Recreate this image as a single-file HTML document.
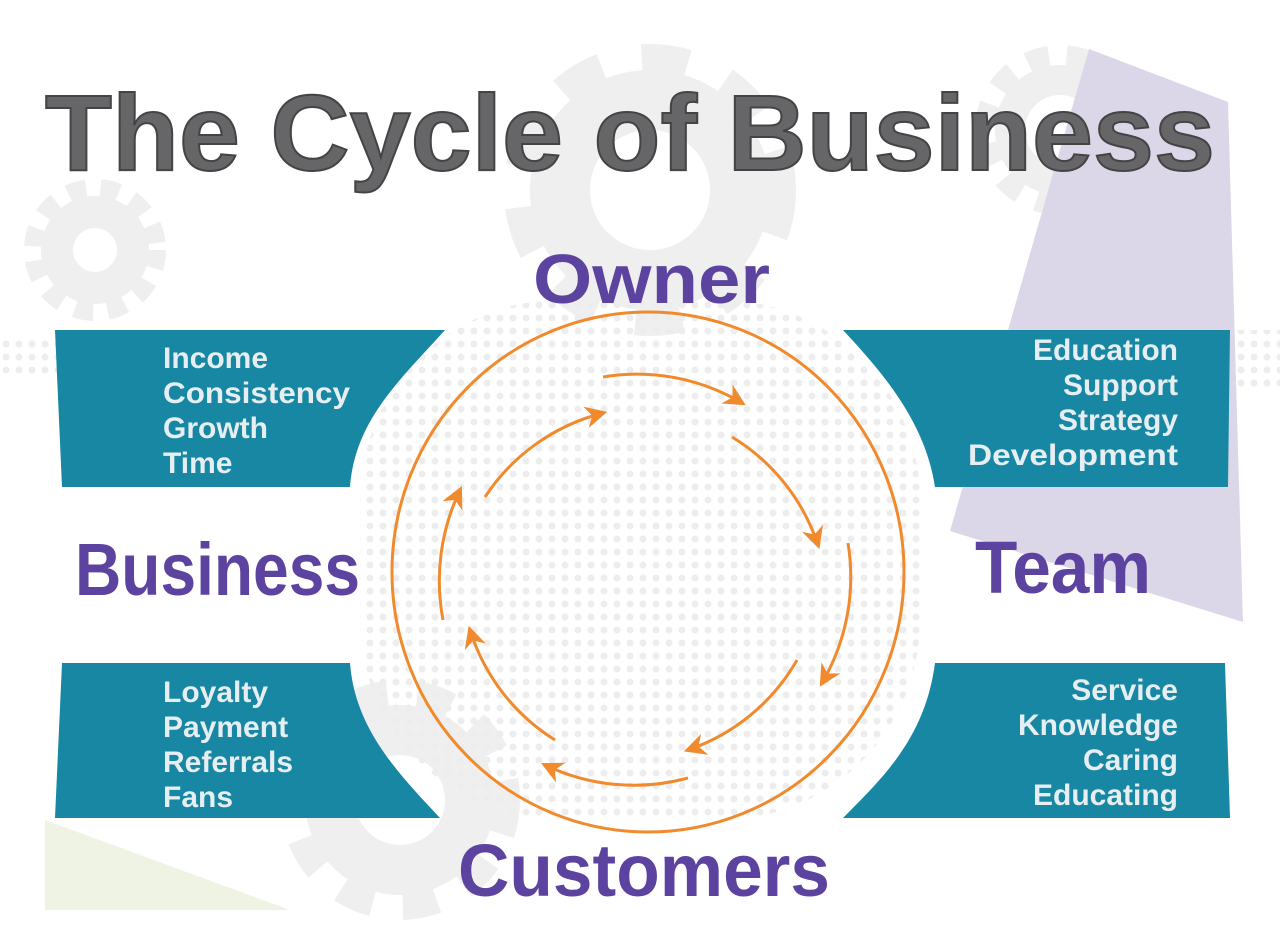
<!DOCTYPE html>
<html><head><meta charset="utf-8"><style>
html,body{margin:0;padding:0;background:#fff;}
svg{display:block;}
</style></head><body>
<svg width="1280" height="943" viewBox="0 0 1280 943" xmlns="http://www.w3.org/2000/svg">
<defs>
<marker id="a" viewBox="0 0 10 10" refX="8" refY="5" markerWidth="22" markerHeight="22" markerUnits="userSpaceOnUse" orient="auto">
<path d="M0,0 L10,5 L0,10 L3,5 Z" fill="#f08a2c"/>
</marker>
<pattern id="dots" width="13" height="13" patternUnits="userSpaceOnUse">
<circle cx="6" cy="6" r="3.5" fill="#ededed"/>
</pattern>
</defs>
<rect width="1280" height="943" fill="#fff"/>
<!-- gears -->
<g fill="none" stroke="#efefef">
<circle cx="650" cy="190" r="90" stroke-width="60"/>
<circle cx="650" cy="190" r="128" stroke-width="36" stroke-dasharray="45 40"/>
<circle cx="95" cy="250" r="38" stroke-width="32"/>
<circle cx="95" cy="250" r="60" stroke-width="22" stroke-dasharray="18 14"/>
<circle cx="400" cy="800" r="70" stroke-width="50"/>
<circle cx="400" cy="800" r="105" stroke-width="30" stroke-dasharray="34 30"/>
<circle cx="1060" cy="130" r="50" stroke-width="30"/>
<circle cx="1060" cy="130" r="75" stroke-width="20" stroke-dasharray="22 18"/>
</g>
<!-- dotted world map hint -->
<g fill="url(#dots)">
<rect x="0" y="335" width="60" height="45"/>
<rect x="360" y="300" width="560" height="520" rx="200"/>
<rect x="1230" y="330" width="50" height="60"/>
</g>
<!-- purple polygon -->
<polygon points="1089,49 1228,102 1243,622 950,531" fill="#dcd7e8"/>
<!-- green triangle -->
<polygon points="45,820 290,910 45,910" fill="#eef3e4"/>
<!-- teal banners -->
<path d="M55,330 L445,330 C400,380 355,420 350,487 L62,487 Z" fill="#1787a3"/>
<path d="M843,330 L1230,330 L1228,487 L935,487 C925,420 880,370 843,330 Z" fill="#1787a3"/>
<path d="M62,663 L350,663 C355,730 400,775 440,818 L55,818 Z" fill="#1787a3"/>
<path d="M935,663 L1225,663 L1230,818 L843,818 C880,780 925,740 935,663 Z" fill="#1787a3"/>
<!-- circle -->
<ellipse cx="648" cy="572" rx="256" ry="260" fill="none" stroke="#f08a2c" stroke-width="3"/>
<g fill="none" stroke="#f08a2c" stroke-width="3" marker-end="url(#a)">
<path d="M603,377 A205,205 0 0 1 742,403"/>
<path d="M732,437 A200,200 0 0 1 818,545"/>
<path d="M848,543 A210,210 0 0 1 822,683"/>
<path d="M797,660 A200,200 0 0 1 688,750"/>
<path d="M688,778 A205,205 0 0 1 545,765"/>
<path d="M555,740 A200,200 0 0 1 470,630"/>
<path d="M443,620 A210,210 0 0 1 460,490"/>
<path d="M485,497 A200,200 0 0 1 603,413"/>
</g>
<!-- title -->
<text x="45" y="170" textLength="1170" lengthAdjust="spacingAndGlyphs" font-family="Liberation Sans, sans-serif" font-weight="bold" font-size="108" fill="#666668" stroke="#444" stroke-width="2">The Cycle of Business</text>
<g font-family="Liberation Sans, sans-serif" font-weight="bold" fill="#5d43a0">
<text x="533" y="303" textLength="237" lengthAdjust="spacingAndGlyphs" font-size="70">Owner</text>
<text x="75" y="595" textLength="285" lengthAdjust="spacingAndGlyphs" font-size="74">Business</text>
<text x="975" y="593" textLength="176" lengthAdjust="spacingAndGlyphs" font-size="74">Team</text>
<text x="458" y="896" textLength="372" lengthAdjust="spacingAndGlyphs" font-size="74">Customers</text>
</g>
<g font-family="Liberation Sans, sans-serif" font-weight="bold" font-size="30" fill="#e6eef1">
<text x="163" y="368">Income</text>
<text x="163" y="403" textLength="187" lengthAdjust="spacingAndGlyphs">Consistency</text>
<text x="163" y="438">Growth</text>
<text x="163" y="473">Time</text>
<text x="163" y="702">Loyalty</text>
<text x="163" y="737">Payment</text>
<text x="163" y="772">Referrals</text>
<text x="163" y="807">Fans</text>
</g>
<g font-family="Liberation Sans, sans-serif" font-weight="bold" font-size="30" fill="#e6eef1" text-anchor="end">
<text x="1178" y="360">Education</text>
<text x="1178" y="395">Support</text>
<text x="1178" y="430">Strategy</text>
<text x="1178" y="465" textLength="210" lengthAdjust="spacingAndGlyphs">Development</text>
<text x="1178" y="700">Service</text>
<text x="1178" y="735">Knowledge</text>
<text x="1178" y="770">Caring</text>
<text x="1178" y="805">Educating</text>
</g>
</svg>
</body></html>
